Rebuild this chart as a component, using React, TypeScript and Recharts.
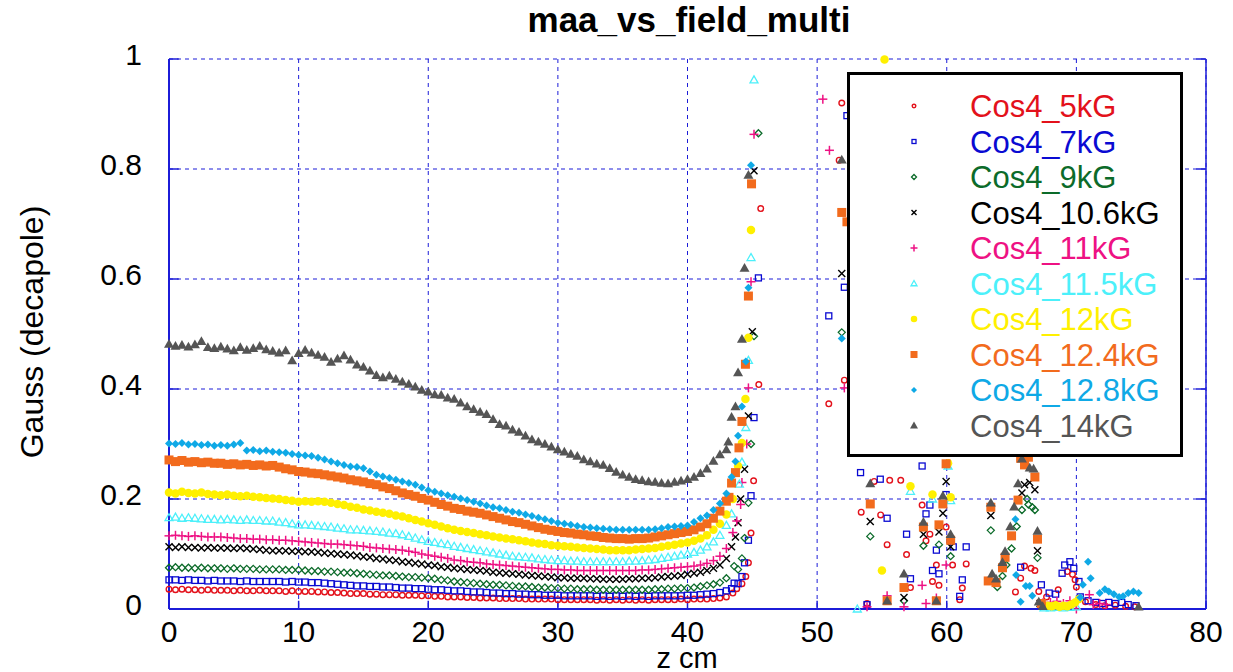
import React from 'react';
import { CartesianGrid, ReferenceLine, Scatter, ScatterChart, XAxis, YAxis } from 'recharts';

const FONT = '"Liberation Sans", Arial, Helvetica, sans-serif';
const BLUE = '#1c1cd8';

const xTicks = [0, 10, 20, 30, 40, 50, 60, 70, 80];
const yTicks = [0, 0.2, 0.4, 0.6, 0.8, 1];

// sample positions of the dense part of every scan (cm)
const zGrid = [
  0, 0.5, 1, 1.5, 2, 2.5, 3, 3.5, 4, 4.5, 5, 5.5, 6, 6.5, 7, 7.5, 8, 8.5, 9, 9.5, 10, 10.5, 11, 11.5, 12,
  12.5, 13, 13.5, 14, 14.5, 15, 15.5, 16, 16.5, 17, 17.5, 18, 18.5, 19, 19.5, 20, 20.5, 21, 21.5, 22, 22.5,
  23, 23.5, 24, 24.5, 25, 25.5, 26, 26.5, 27, 27.5, 28, 28.5, 29, 29.5, 30, 30.5, 31, 31.5, 32, 32.5, 33,
  33.5, 34, 34.5, 35, 35.5, 36, 36.5, 37, 37.5, 38, 38.5, 39, 39.5, 40, 40.5, 41, 41.5, 42, 42.5, 43,
];

const cos5 = [
  0.036, 0.035, 0.036, 0.035, 0.035, 0.034, 0.035, 0.034, 0.034, 0.034, 0.033, 0.034, 0.033, 0.033, 0.034, 0.033, 0.033,
  0.033, 0.032, 0.033, 0.032, 0.032, 0.032, 0.031, 0.031, 0.03, 0.03, 0.029, 0.028, 0.028, 0.028, 0.027, 0.027,
  0.026, 0.026, 0.026, 0.025, 0.025, 0.025, 0.024, 0.024, 0.023, 0.023, 0.022, 0.022, 0.022, 0.021, 0.021, 0.02,
  0.02, 0.02, 0.019, 0.019, 0.019, 0.019, 0.018, 0.018, 0.018, 0.018, 0.018, 0.017, 0.017, 0.017, 0.017, 0.017,
  0.017, 0.016, 0.017, 0.016, 0.017, 0.016, 0.017, 0.016, 0.017, 0.016, 0.017, 0.017, 0.017, 0.017, 0.018, 0.017,
  0.018, 0.018, 0.018, 0.019, 0.02, 0.022,
];
const cos5Outer = [
  [43.5, 0.029], [43.8, 0.037], [44.2, 0.046], [44.5, 0.059], [44.7, 0.084], [44.9, 0.138], [45.1, 0.233], [45.5, 0.408],
  [45.65, 0.728], [50.9, 0.373], [51.7, 0.816], [51.9, 0.92], [52.1, 0.416], [53.4, 0.176], [53.85, 0.01], [54.4, 0.232],
  [54.9, 0.171], [55.4, 0.117], [55.6, 0.234], [56.45, 0.234], [56.9, 0.099], [57.2, 0.039], [58.1, 0.189], [58.4, 0.124],
  [58.7, 0.136], [58.9, 0.05], [59.2, 0.08], [59.4, 0.043], [59.95, 0.149], [60.45, 0.08], [61.0, 0.017], [61.2, 0.038],
  [61.5, 0.082], [65.3, 0.031], [65.7, 0.056], [66.0, 0.078], [66.5, 0.074], [66.8, 0.07], [67.1, 0.032], [67.7, 0.022],
  [68.6, 0.035], [69.3, 0.068], [69.7, 0.063], [69.9, 0.053], [70.0, 0.04], [70.7, 0.013], [71.5, 0.008], [72.2, 0.006],
  [73.0, 0.007], [73.8, 0.005], [74.5, 0.004],
];

const cos7 = [
  0.053, 0.053, 0.052, 0.053, 0.052, 0.052, 0.051, 0.052, 0.051, 0.051, 0.051, 0.05, 0.051, 0.05, 0.05, 0.05, 0.05,
  0.05, 0.049, 0.05, 0.049, 0.049, 0.048, 0.048, 0.047, 0.046, 0.045, 0.044, 0.043, 0.042, 0.042, 0.041, 0.041,
  0.04, 0.04, 0.039, 0.038, 0.038, 0.037, 0.037, 0.036, 0.035, 0.035, 0.034, 0.033, 0.033, 0.032, 0.031, 0.031,
  0.03, 0.029, 0.029, 0.028, 0.028, 0.027, 0.027, 0.026, 0.026, 0.025, 0.025, 0.025, 0.024, 0.024, 0.024, 0.024,
  0.024, 0.023, 0.024, 0.023, 0.024, 0.023, 0.024, 0.023, 0.024, 0.023, 0.024, 0.024, 0.024, 0.024, 0.024, 0.025,
  0.025, 0.026, 0.027, 0.028, 0.03, 0.033,
];
const cos7Outer = [
  [43.4, 0.037], [43.6, 0.047], [43.9, 0.046], [44.2, 0.059], [44.4, 0.084], [44.7, 0.125], [44.9, 0.206], [45.13, 0.348],
  [45.47, 0.602], [50.9, 0.533], [52.1, 0.585], [52.3, 0.897], [53.35, 0.248], [53.85, 0.008], [54.87, 0.236], [55.4, 0.165],
  [56.9, 0.136], [57.2, 0.055], [58.1, 0.26], [58.4, 0.173], [58.7, 0.189], [58.9, 0.07], [59.2, 0.107], [59.4, 0.064],
  [59.95, 0.208], [60.5, 0.113], [61.0, 0.023], [61.2, 0.053], [61.5, 0.113], [65.7, 0.076], [67.3, 0.044], [67.9, 0.029],
  [68.4, 0.027], [68.9, 0.065], [69.1, 0.08], [69.5, 0.086], [69.8, 0.074], [70.2, 0.05], [70.3, 0.022], [70.9, 0.015],
  [71.5, 0.012], [72.0, 0.01], [72.5, 0.012], [73.0, 0.01], [73.5, 0.012], [74.0, 0.008], [74.6, 0.006],
];

const cos9 = [
  0.075, 0.076, 0.075, 0.075, 0.074, 0.075, 0.074, 0.074, 0.074, 0.073, 0.074, 0.073, 0.073, 0.073, 0.072, 0.072, 0.072,
  0.072, 0.071, 0.071, 0.071, 0.07, 0.069, 0.069, 0.068, 0.068, 0.067, 0.066, 0.066, 0.065, 0.064, 0.063, 0.062,
  0.061, 0.061, 0.06, 0.059, 0.058, 0.058, 0.057, 0.056, 0.055, 0.053, 0.052, 0.05, 0.049, 0.048, 0.047, 0.046,
  0.045, 0.044, 0.044, 0.043, 0.042, 0.041, 0.041, 0.04, 0.039, 0.039, 0.038, 0.038, 0.037, 0.037, 0.036, 0.036,
  0.036, 0.035, 0.035, 0.035, 0.035, 0.035, 0.035, 0.035, 0.035, 0.035, 0.036, 0.036, 0.037, 0.037, 0.038, 0.038,
  0.039, 0.041, 0.043, 0.045, 0.048, 0.056,
];
const cos9Outer = [
  [43.6, 0.078], [43.9, 0.072], [44.2, 0.092], [44.4, 0.129], [44.7, 0.193], [44.9, 0.3], [45.13, 0.496], [45.47, 0.865],
  [51.9, 0.503], [54.1, 0.132], [56.7, 0.015], [58.2, 0.115], [59.4, 0.117], [60.3, 0.096], [63.4, 0.143], [63.9, 0.04],
  [64.3, 0.06], [64.6, 0.08], [65.0, 0.11], [65.4, 0.15], [65.8, 0.18], [66.2, 0.2], [66.3, 0.19], [66.6, 0.185],
  [66.8, 0.18], [67.0, 0.093], [68.0, 0.005],
];

const cos106 = [
  0.113, 0.112, 0.113, 0.112, 0.112, 0.111, 0.112, 0.111, 0.111, 0.111, 0.11, 0.111, 0.11, 0.109, 0.108, 0.107, 0.106,
  0.106, 0.106, 0.105, 0.105, 0.104, 0.104, 0.103, 0.102, 0.101, 0.1, 0.099, 0.098, 0.097, 0.095, 0.094, 0.092,
  0.091, 0.089, 0.088, 0.086, 0.085, 0.083, 0.082, 0.08, 0.079, 0.077, 0.076, 0.074, 0.073, 0.072, 0.071, 0.07,
  0.069, 0.067, 0.066, 0.065, 0.064, 0.063, 0.062, 0.061, 0.06, 0.059, 0.058, 0.057, 0.057, 0.056, 0.056, 0.056,
  0.055, 0.055, 0.054, 0.054, 0.054, 0.054, 0.055, 0.055, 0.056, 0.056, 0.057, 0.058, 0.059, 0.06, 0.061, 0.063,
  0.065, 0.067, 0.07, 0.074, 0.08, 0.092,
];
const cos106Outer = [
  [43.4, 0.113], [43.7, 0.131], [43.9, 0.157], [44.1, 0.2], [44.4, 0.254], [44.7, 0.351], [45.0, 0.504], [45.13, 0.797],
  [51.9, 0.61], [54.1, 0.159], [56.7, 0.021], [58.2, 0.136], [59.4, 0.14], [59.7, 0.174], [59.95, 0.232], [60.3, 0.113],
  [63.4, 0.17], [65.8, 0.211], [66.0, 0.226], [66.4, 0.23], [66.8, 0.217], [67.0, 0.106], [67.2, 0.01],
];

const cos11 = [
  0.133, 0.134, 0.133, 0.132, 0.133, 0.132, 0.131, 0.131, 0.131, 0.13, 0.129, 0.128, 0.128, 0.127, 0.127, 0.126, 0.126,
  0.125, 0.125, 0.124, 0.123, 0.122, 0.121, 0.12, 0.119, 0.118, 0.118, 0.117, 0.116, 0.115, 0.114, 0.112, 0.111,
  0.11, 0.109, 0.108, 0.107, 0.105, 0.103, 0.1, 0.098, 0.096, 0.094, 0.092, 0.089, 0.088, 0.086, 0.085, 0.084,
  0.082, 0.081, 0.08, 0.079, 0.078, 0.077, 0.076, 0.075, 0.074, 0.073, 0.072, 0.072, 0.071, 0.071, 0.07, 0.07,
  0.07, 0.07, 0.07, 0.07, 0.07, 0.07, 0.07, 0.07, 0.071, 0.071, 0.072, 0.073, 0.074, 0.075, 0.076, 0.077,
  0.078, 0.08, 0.083, 0.088, 0.096, 0.11,
];
const cos11Outer = [
  [43.5, 0.139], [43.8, 0.16], [44.1, 0.19], [44.2, 0.23], [44.57, 0.3], [44.7, 0.402], [44.9, 0.595], [45.13, 0.863],
  [50.44, 0.927], [50.95, 0.834], [52.1, 0.402], [53.85, 0.004], [55.4, 0.024], [56.7, 0.004], [58.1, 0.043], [58.4, 0.01],
  [59.2, 0.02], [59.95, 0.08], [67.4, 0.011], [68.0, 0.012], [68.5, 0.014], [69.0, 0.01], [69.5, 0.015], [70.0, 0.0],
  [71.0, 0.026], [71.3, 0.008], [71.8, 0.01], [72.3, 0.008],
];

const cos115 = [
  0.166, 0.167, 0.165, 0.166, 0.165, 0.164, 0.163, 0.163, 0.162, 0.163, 0.162, 0.161, 0.162, 0.161, 0.161, 0.16, 0.16,
  0.158, 0.157, 0.155, 0.153, 0.153, 0.152, 0.151, 0.15, 0.149, 0.147, 0.146, 0.144, 0.144, 0.143, 0.142, 0.141,
  0.14, 0.138, 0.137, 0.135, 0.132, 0.129, 0.126, 0.123, 0.121, 0.119, 0.117, 0.114, 0.112, 0.11, 0.108, 0.106,
  0.104, 0.102, 0.1, 0.098, 0.096, 0.095, 0.094, 0.093, 0.091, 0.09, 0.089, 0.088, 0.088, 0.087, 0.087, 0.086,
  0.086, 0.086, 0.086, 0.086, 0.086, 0.086, 0.087, 0.087, 0.088, 0.089, 0.09, 0.092, 0.094, 0.096, 0.098, 0.1,
  0.103, 0.107, 0.113, 0.122, 0.134, 0.152,
];
const cos115Outer = [
  [43.4, 0.173], [44.0, 0.227], [44.2, 0.267], [44.5, 0.33], [44.7, 0.452], [44.9, 0.639], [45.13, 0.962], [53.1, 0.0],
  [57.2, 0.214], [58.9, 0.2], [60.1, 0.26], [60.3, 0.197], [67.5, 0.002], [68.0, 0.002], [68.5, 0.003], [69.0, 0.002],
  [69.5, 0.003], [70.0, 0.004],
];

const cos12 = [
  0.212, 0.21, 0.213, 0.211, 0.21, 0.212, 0.209, 0.208, 0.207, 0.208, 0.206, 0.205, 0.206, 0.204, 0.203, 0.202, 0.201,
  0.2, 0.198, 0.197, 0.195, 0.196, 0.195, 0.196, 0.195, 0.193, 0.191, 0.189, 0.186, 0.184, 0.181, 0.179, 0.177,
  0.175, 0.173, 0.17, 0.168, 0.165, 0.162, 0.159, 0.156, 0.153, 0.15, 0.147, 0.144, 0.142, 0.14, 0.138, 0.136,
  0.134, 0.132, 0.13, 0.128, 0.127, 0.125, 0.123, 0.121, 0.119, 0.118, 0.116, 0.115, 0.114, 0.113, 0.112, 0.111,
  0.11, 0.109, 0.108, 0.107, 0.107, 0.107, 0.107, 0.108, 0.109, 0.11, 0.111, 0.113, 0.115, 0.117, 0.119, 0.121,
  0.124, 0.128, 0.134, 0.144, 0.155, 0.172,
];
const cos12Outer = [
  [43.5, 0.2], [43.9, 0.26], [44.2, 0.302], [44.47, 0.382], [44.7, 0.493], [44.9, 0.689], [55.0, 0.07], [55.2, 0.999],
  [57.2, 0.223], [58.9, 0.208], [60.1, 0.265], [60.3, 0.203], [67.8, 0.006], [68.1, 0.005], [68.4, 0.007], [68.7, 0.004],
  [69.0, 0.006], [69.3, 0.005], [69.6, 0.008], [69.9, 0.012], [70.2, 0.018],
];

const cos124 = [
  0.271, 0.268, 0.27, 0.267, 0.268, 0.266, 0.267, 0.265, 0.265, 0.263, 0.264, 0.262, 0.263, 0.261, 0.262, 0.26, 0.261,
  0.258, 0.255, 0.253, 0.25, 0.249, 0.247, 0.246, 0.244, 0.242, 0.24, 0.238, 0.235, 0.233, 0.231, 0.228, 0.226,
  0.222, 0.219, 0.215, 0.211, 0.208, 0.205, 0.201, 0.198, 0.194, 0.19, 0.187, 0.183, 0.181, 0.178, 0.176, 0.174,
  0.171, 0.168, 0.165, 0.162, 0.159, 0.157, 0.154, 0.151, 0.148, 0.145, 0.143, 0.141, 0.139, 0.138, 0.136, 0.135,
  0.133, 0.132, 0.13, 0.129, 0.128, 0.128, 0.127, 0.128, 0.128, 0.129, 0.131, 0.133, 0.135, 0.137, 0.139, 0.141,
  0.144, 0.149, 0.155, 0.165, 0.178, 0.196,
];
const cos124Outer = [
  [43.2, 0.203], [43.4, 0.229], [43.7, 0.248], [43.97, 0.293], [44.2, 0.341], [44.47, 0.445], [44.7, 0.569], [44.94, 0.773],
  [51.9, 0.721], [52.3, 0.704], [54.1, 0.191], [55.4, 0.015], [56.7, 0.039], [58.2, 0.149], [59.2, 0.015], [59.4, 0.153],
  [59.7, 0.191], [59.95, 0.264], [60.3, 0.125], [63.2, 0.051], [63.4, 0.185], [63.8, 0.048], [64.3, 0.075], [64.5, 0.094],
  [65.0, 0.133], [65.5, 0.198], [65.7, 0.274], [66.0, 0.262], [66.3, 0.276], [66.8, 0.24], [67.0, 0.127], [67.3, 0.01],
];

const cos128 = [
  0.301, 0.3, 0.302, 0.299, 0.3, 0.298, 0.299, 0.297, 0.298, 0.297, 0.299, 0.302, 0.288, 0.289, 0.287, 0.288, 0.286,
  0.285, 0.284, 0.282, 0.28, 0.279, 0.278, 0.275, 0.272, 0.268, 0.265, 0.262, 0.259, 0.258, 0.256, 0.25, 0.244,
  0.241, 0.238, 0.235, 0.232, 0.229, 0.226, 0.221, 0.216, 0.213, 0.21, 0.207, 0.204, 0.201, 0.198, 0.195, 0.192,
  0.188, 0.185, 0.183, 0.18, 0.177, 0.175, 0.172, 0.169, 0.166, 0.163, 0.16, 0.157, 0.155, 0.153, 0.151, 0.149,
  0.148, 0.147, 0.146, 0.145, 0.144, 0.144, 0.144, 0.144, 0.144, 0.144, 0.145, 0.147, 0.149, 0.15, 0.151, 0.152,
  0.158, 0.165, 0.17, 0.18, 0.192, 0.21,
];
const cos128Outer = [
  [43.4, 0.24], [43.7, 0.268], [43.9, 0.315], [44.2, 0.368], [44.5, 0.45], [44.7, 0.584], [44.9, 0.807], [51.9, 0.492],
  [65.3, 0.163], [65.35, 0.062], [65.7, 0.013], [66.1, 0.042], [66.4, 0.042], [66.6, 0.024], [70.3, 0.021], [70.5, 0.044],
  [70.9, 0.086], [71.1, 0.056], [71.8, 0.029], [72.2, 0.036], [72.5, 0.032], [72.9, 0.027], [73.3, 0.022], [73.6, 0.023],
  [74.0, 0.029], [74.4, 0.032], [74.8, 0.029],
];

const cos14 = [
  0.482, 0.478, 0.48, 0.477, 0.481, 0.487, 0.476, 0.474, 0.477, 0.473, 0.47, 0.476, 0.471, 0.474, 0.478, 0.472, 0.469,
  0.466, 0.47, 0.452, 0.465, 0.471, 0.466, 0.462, 0.458, 0.449, 0.455, 0.461, 0.453, 0.444, 0.44, 0.433, 0.425,
  0.421, 0.424, 0.418, 0.413, 0.409, 0.404, 0.398, 0.395, 0.39, 0.389, 0.384, 0.382, 0.375, 0.368, 0.363, 0.358,
  0.354, 0.345, 0.336, 0.333, 0.326, 0.322, 0.315, 0.308, 0.304, 0.3, 0.295, 0.29, 0.286, 0.282, 0.278, 0.272,
  0.268, 0.264, 0.262, 0.256, 0.249, 0.244, 0.24, 0.236, 0.234, 0.232, 0.231, 0.229, 0.228, 0.231, 0.233, 0.236,
  0.24, 0.247, 0.255, 0.269, 0.281, 0.29,
];
const cos14Outer = [
  [43.15, 0.304], [43.4, 0.349], [43.7, 0.368], [43.9, 0.43], [44.2, 0.491], [44.4, 0.62], [44.7, 0.789], [51.9, 0.817],
  [54.1, 0.228], [55.4, 0.015], [56.7, 0.064], [58.2, 0.158], [59.2, 0.015], [59.7, 0.206], [60.3, 0.136], [63.4, 0.193],
  [63.5, 0.064], [63.8, 0.055], [64.3, 0.085], [64.5, 0.105], [64.9, 0.15], [65.2, 0.186], [65.5, 0.228], [65.8, 0.273],
  [65.9, 0.284], [66.4, 0.257], [66.7, 0.255], [67.0, 0.142], [67.1, 0.013], [67.4, 0.005], [74.8, 0.004],
];

type Kind = 'circleOpen' | 'squareOpen' | 'diamondOpen' | 'x' | 'plus' | 'triOpen' | 'circle' | 'square' | 'diamond' | 'tri';

const series: Array<{ name: string; color: string; kind: Kind; size: number; main: number[]; outer: number[][] }> = [
  { name: 'Cos4_5kG', color: '#e3111b', kind: 'circleOpen', size: 7, main: cos5, outer: cos5Outer },
  { name: 'Cos4_7kG', color: '#0a0ad2', kind: 'squareOpen', size: 7, main: cos7, outer: cos7Outer },
  { name: 'Cos4_9kG', color: '#0c6b2a', kind: 'diamondOpen', size: 7, main: cos9, outer: cos9Outer },
  { name: 'Cos4_10.6kG', color: '#000000', kind: 'x', size: 7, main: cos106, outer: cos106Outer },
  { name: 'Cos4_11kG', color: '#ee1183', kind: 'plus', size: 9, main: cos11, outer: cos11Outer },
  { name: 'Cos4_11.5kG', color: '#4cf0fa', kind: 'triOpen', size: 8, main: cos115, outer: cos115Outer },
  { name: 'Cos4_12kG', color: '#fff000', kind: 'circle', size: 8.5, main: cos12, outer: cos12Outer },
  { name: 'Cos4_12.4kG', color: '#f26b1d', kind: 'square', size: 9, main: cos124, outer: cos124Outer },
  { name: 'Cos4_12.8kG', color: '#0fa9e6', kind: 'diamond', size: 8, main: cos128, outer: cos128Outer },
  { name: 'Cos4_14kG', color: '#555555', kind: 'tri', size: 10, main: cos14, outer: cos14Outer },
];

const toPoints = (main: number[], outer: number[][]) => [
  ...zGrid.map((z, i) => ({ z, v: main[i] })),
  ...outer.map(([z, v]) => ({ z, v })),
];

function Mark({ kind, cx, cy, color, s }: { kind: Kind; cx: number; cy: number; color: string; s: number }) {
  const h = s / 2;
  switch (kind) {
    case 'circleOpen':
      return <circle cx={cx} cy={cy} r={h - 0.7} fill="none" stroke={color} strokeWidth={1.4} />;
    case 'squareOpen':
      return <rect x={cx - h + 0.5} y={cy - h + 0.5} width={s - 1} height={s - 1} fill="none" stroke={color} strokeWidth={1.3} />;
    case 'diamondOpen':
      return <polygon points={`${cx},${cy - h} ${cx + h},${cy} ${cx},${cy + h} ${cx - h},${cy}`} fill="none" stroke={color} strokeWidth={1.3} />;
    case 'x':
      return (
        <g stroke={color} strokeWidth={1.4}>
          <line x1={cx - h} y1={cy - h} x2={cx + h} y2={cy + h} />
          <line x1={cx - h} y1={cy + h} x2={cx + h} y2={cy - h} />
        </g>
      );
    case 'plus':
      return (
        <g stroke={color} strokeWidth={1.5}>
          <line x1={cx - h} y1={cy} x2={cx + h} y2={cy} />
          <line x1={cx} y1={cy - h} x2={cx} y2={cy + h} />
        </g>
      );
    case 'triOpen':
      return <polygon points={`${cx},${cy - h} ${cx + h},${cy + h * 0.75} ${cx - h},${cy + h * 0.75}`} fill="none" stroke={color} strokeWidth={1.3} />;
    case 'circle':
      return <circle cx={cx} cy={cy} r={h} fill={color} />;
    case 'square':
      return <rect x={cx - h} y={cy - h} width={s} height={s} fill={color} />;
    case 'diamond':
      return <polygon points={`${cx},${cy - h} ${cx + h},${cy} ${cx},${cy + h} ${cx - h},${cy}`} fill={color} />;
    default:
      return <polygon points={`${cx},${cy - h} ${cx + h},${cy + h * 0.75} ${cx - h},${cy + h * 0.75}`} fill={color} />;
  }
}

const XTick = ({ x, y, payload }: any) => (
  <text x={x} y={y + 33} textAnchor="middle" fontFamily={FONT} fontSize={30} fill="#000">
    {payload.value}
  </text>
);

const YTick = ({ x, y, payload }: any) => (
  <text x={x - 27} y={y + 6} textAnchor="end" fontFamily={FONT} fontSize={30} fill="#000">
    {payload.value}
  </text>
);

export default function App() {
  return (
    <div style={{ position: 'absolute', left: 0, top: 0, width: 1233, height: 672, background: '#fff' }}>
      <ScatterChart width={1233} height={672} margin={{ top: 59, right: 27, bottom: 33, left: 109 }}>
        <CartesianGrid stroke={BLUE} strokeDasharray="4 4" strokeWidth={1} />
        <XAxis
          type="number"
          dataKey="z"
          domain={[0, 80]}
          ticks={xTicks}
          height={30}
          tickSize={0}
          tickMargin={0}
          tickLine={false}
          axisLine={{ stroke: BLUE, strokeWidth: 2 }}
          tick={<XTick />}
        />
        <YAxis
          type="number"
          dataKey="v"
          domain={[0, 1]}
          ticks={yTicks}
          width={60}
          tickSize={0}
          tickMargin={0}
          tickLine={false}
          axisLine={{ stroke: BLUE, strokeWidth: 2 }}
          tick={<YTick />}
        />
        <ReferenceLine x={80} stroke={BLUE} strokeWidth={1.5} />
        {yTicks.map((t) => (
          <ReferenceLine key={`yl${t}`} segment={[{ x: 0, y: t }, { x: 0.75, y: t }]} stroke={BLUE} strokeWidth={1.5} />
        ))}
        {yTicks.map((t) => (
          <ReferenceLine key={`yr${t}`} segment={[{ x: 79.25, y: t }, { x: 80, y: t }]} stroke={BLUE} strokeWidth={1.5} />
        ))}
        {xTicks.map((t) => (
          <ReferenceLine key={`xb${t}`} segment={[{ x: t, y: 0 }, { x: t, y: 0.015 }]} stroke={BLUE} strokeWidth={1.5} />
        ))}
        {series.map((s) => (
          <Scatter
            key={s.name}
            name={s.name}
            data={toPoints(s.main, s.outer)}
            isAnimationActive={false}
            shape={(p: any) => <Mark kind={s.kind} cx={p.cx} cy={p.cy} color={s.color} s={s.size} />}
          />
        ))}
      </ScatterChart>
      <svg width={1233} height={672} style={{ position: 'absolute', left: 0, top: 0, pointerEvents: 'none' }}>
        <text x={689} y={32} textAnchor="middle" fontFamily={FONT} fontWeight="bold" fontSize={35} fill="#000">
          maa_vs_field_multi
        </text>
        <text x={687} y={668} textAnchor="middle" fontFamily={FONT} fontSize={29} fill="#000">
          z cm
        </text>
        <text
          transform="translate(43 332) rotate(-90)"
          textAnchor="middle"
          fontFamily={FONT}
          fontSize={32}
          fill="#000"
        >
          Gauss (decapole)
        </text>
        <rect x={848.5} y={73.5} width={333} height={382} fill="#fff" stroke="#000" strokeWidth={3} />
        {series.map((s, i) => {
          const cy = 106 + i * 35.5;
          return (
            <g key={s.name}>
              <Mark kind={s.kind} cx={914} cy={cy} color={s.color} s={s.size - 2} />
              <text x={970} y={cy + 11} fontFamily={FONT} fontSize={31} fill={s.color}>
                {s.name}
              </text>
            </g>
          );
        })}
      </svg>
    </div>
  );
}
